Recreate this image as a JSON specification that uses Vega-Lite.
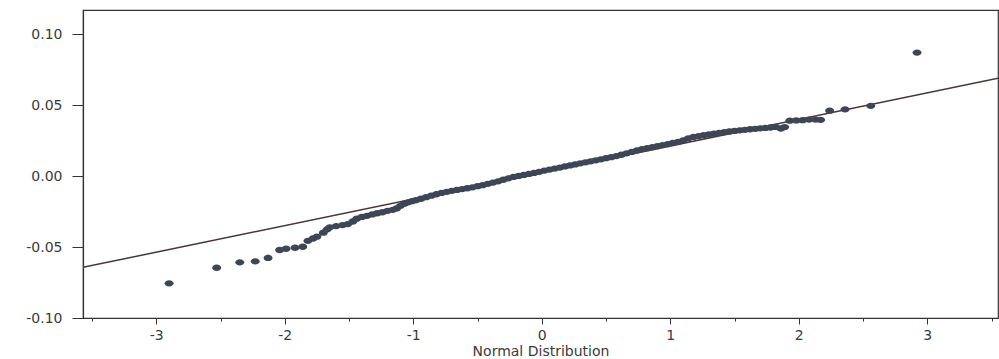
{
  "$schema": "https://vega.github.io/schema/vega-lite/v6.json",
  "width": 915,
  "height": 308,
  "autosize": {"type": "none"},
  "padding": {"left": 83, "top": 10, "right": 1, "bottom": 41},
  "background": "white",
  "config": {
    "view": {"stroke": "#333333", "strokeWidth": 1.2},
    "font": "DejaVu Sans"
  },
  "datasets": {
    "fit": [{"x": -3.57, "y": -0.0643}, {"x": 3.55, "y": 0.0689}],
    "pts": [
      {"x": -2.90, "y": -0.0756}, {"x": -2.53, "y": -0.0646}, {"x": -2.35, "y": -0.0608}, {"x": -2.23, "y": -0.0601},
      {"x": -2.13, "y": -0.0577}, {"x": -2.04, "y": -0.0521}, {"x": -1.99, "y": -0.0512}, {"x": -1.92, "y": -0.0505},
      {"x": -1.86, "y": -0.0498}, {"x": -1.82, "y": -0.0456}, {"x": -1.78, "y": -0.0440}, {"x": -1.75, "y": -0.0427},
      {"x": -1.70, "y": -0.0399}, {"x": -1.67, "y": -0.0375}, {"x": -1.65, "y": -0.0361}, {"x": -1.60, "y": -0.0352},
      {"x": -1.55, "y": -0.0345}, {"x": -1.51, "y": -0.0338}, {"x": -1.47, "y": -0.0320}, {"x": -1.44, "y": -0.0300},
      {"x": -1.40, "y": -0.0288}, {"x": -1.36, "y": -0.0280}, {"x": -1.32, "y": -0.0270}, {"x": -1.28, "y": -0.0262},
      {"x": -1.24, "y": -0.0255}, {"x": -1.20, "y": -0.0245}, {"x": -1.16, "y": -0.0238}, {"x": -1.13, "y": -0.0228},
      {"x": -1.10, "y": -0.0210}, {"x": -1.07, "y": -0.0195}, {"x": -1.04, "y": -0.0185}, {"x": -1.01, "y": -0.0177},
      {"x": -0.98, "y": -0.0170}, {"x": -0.94, "y": -0.0160}, {"x": -0.90, "y": -0.0149}, {"x": -0.86, "y": -0.0138},
      {"x": -0.82, "y": -0.0128}, {"x": -0.78, "y": -0.0119}, {"x": -0.74, "y": -0.0111}, {"x": -0.70, "y": -0.0104},
      {"x": -0.66, "y": -0.0098}, {"x": -0.62, "y": -0.0092}, {"x": -0.58, "y": -0.0086}, {"x": -0.54, "y": -0.0079},
      {"x": -0.50, "y": -0.0071}, {"x": -0.46, "y": -0.0064}, {"x": -0.42, "y": -0.0055}, {"x": -0.38, "y": -0.0046},
      {"x": -0.34, "y": -0.0037}, {"x": -0.30, "y": -0.0026}, {"x": -0.26, "y": -0.0016}, {"x": -0.22, "y": -0.0006},
      {"x": -0.18, "y": 0.0001}, {"x": -0.14, "y": 0.0008}, {"x": -0.10, "y": 0.0015}, {"x": -0.06, "y": 0.0022},
      {"x": -0.02, "y": 0.0030}, {"x": 0.02, "y": 0.0039}, {"x": 0.06, "y": 0.0046}, {"x": 0.10, "y": 0.0053},
      {"x": 0.14, "y": 0.0060}, {"x": 0.18, "y": 0.0068}, {"x": 0.22, "y": 0.0075}, {"x": 0.26, "y": 0.0082},
      {"x": 0.30, "y": 0.0090}, {"x": 0.34, "y": 0.0097}, {"x": 0.38, "y": 0.0104}, {"x": 0.42, "y": 0.0111},
      {"x": 0.46, "y": 0.0118}, {"x": 0.50, "y": 0.0126}, {"x": 0.54, "y": 0.0133}, {"x": 0.58, "y": 0.0141},
      {"x": 0.62, "y": 0.0150}, {"x": 0.66, "y": 0.0160}, {"x": 0.70, "y": 0.0170}, {"x": 0.74, "y": 0.0180},
      {"x": 0.78, "y": 0.0189}, {"x": 0.82, "y": 0.0196}, {"x": 0.86, "y": 0.0203}, {"x": 0.90, "y": 0.0210},
      {"x": 0.94, "y": 0.0218}, {"x": 0.98, "y": 0.0225}, {"x": 1.02, "y": 0.0233}, {"x": 1.06, "y": 0.0240},
      {"x": 1.10, "y": 0.0252}, {"x": 1.14, "y": 0.0266}, {"x": 1.18, "y": 0.0276}, {"x": 1.22, "y": 0.0282},
      {"x": 1.26, "y": 0.0288}, {"x": 1.30, "y": 0.0293}, {"x": 1.34, "y": 0.0298}, {"x": 1.38, "y": 0.0304},
      {"x": 1.42, "y": 0.0310}, {"x": 1.46, "y": 0.0314}, {"x": 1.50, "y": 0.0318}, {"x": 1.54, "y": 0.0322},
      {"x": 1.58, "y": 0.0326}, {"x": 1.62, "y": 0.0330}, {"x": 1.66, "y": 0.0333}, {"x": 1.70, "y": 0.0336},
      {"x": 1.74, "y": 0.0339}, {"x": 1.78, "y": 0.0342}, {"x": 1.82, "y": 0.0346}, {"x": 1.86, "y": 0.0335},
      {"x": 1.89, "y": 0.0345}, {"x": 1.93, "y": 0.0390}, {"x": 1.98, "y": 0.0392}, {"x": 2.03, "y": 0.0394},
      {"x": 2.08, "y": 0.0398}, {"x": 2.13, "y": 0.0398}, {"x": 2.17, "y": 0.0396}, {"x": 2.24, "y": 0.0460},
      {"x": 2.36, "y": 0.0470}, {"x": 2.56, "y": 0.0495}, {"x": 2.92, "y": 0.0870}
    ]
  },
  "layer": [
    {
      "data": {"name": "fit"},
      "mark": {"type": "line", "color": "#4a3434", "strokeWidth": 1.5, "clip": true},
      "encoding": {
        "x": {
          "field": "x", "type": "quantitative",
          "scale": {"domain": [-3.57, 3.55], "nice": false, "zero": false},
          "axis": {
            "values": [-3.5, -3, -2.5, -2, -1.5, -1, -0.5, 0, 0.5, 1, 1.5, 2, 2.5, 3, 3.5],
            "labelExpr": "abs(round(datum.value*10)) % 10 === 0 ? replace(datum.label, '\u2212', '-') : ''",
            "format": ".0f",
            "labelOverlap": false, "labelFlush": false, "labelBound": false,
            "grid": false,
            "domainColor": "#333333", "domainWidth": 1.2,
            "tickColor": "#333333", "tickWidth": 1,
            "tickSize": {"condition": {"test": "abs(round(datum.value*10)) % 10 === 0", "value": 6}, "value": 3},
            "labelPadding": 4, "labelFontSize": 14, "labelColor": "#3a3a3a",
            "title": "Normal Distribution", "titleFontSize": 14, "titleFontWeight": "normal",
            "titleColor": "#3a3a3a", "titlePadding": 2
          }
        },
        "y": {
          "field": "y", "type": "quantitative",
          "scale": {"domain": [-0.1, 0.117], "nice": false, "zero": false},
          "axis": {
            "values": [-0.1, -0.075, -0.05, -0.025, 0, 0.025, 0.05, 0.075, 0.1],
            "format": ".2f",
            "labelExpr": "abs(round(datum.value*1000)) % 50 === 0 ? replace(datum.label, '\u2212', '-') : ''",
            "labelOverlap": false, "labelFlush": false, "labelBound": false,
            "grid": false,
            "domainColor": "#333333", "domainWidth": 1.2,
            "tickColor": "#333333", "tickWidth": 1,
            "tickSize": {"condition": {"test": "abs(round(datum.value*1000)) % 50 === 0", "value": 11}, "value": 6},
            "labelPadding": 10, "labelFontSize": 14, "labelColor": "#3a3a3a",
            "title": null
          }
        }
      }
    },
    {
      "data": {"name": "pts"},
      "mark": {
        "type": "point", "filled": true, "opacity": 1,
        "shape": "M-1,0A1,0.7 0 1,0 1,0A1,0.7 0 1,0 -1,0Z",
        "size": 81, "color": "#3c4657"
      },
      "encoding": {
        "x": {"field": "x", "type": "quantitative"},
        "y": {"field": "y", "type": "quantitative"}
      }
    }
  ]
}
